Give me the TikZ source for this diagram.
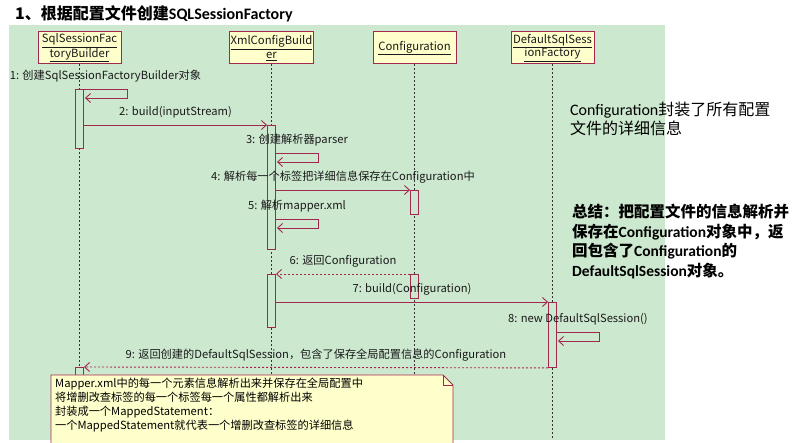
\documentclass[tikz,border=0pt]{standalone}
\usepackage{fontspec}
\usepackage{tikz}
\usetikzlibrary{arrows.meta}
\newfontfamily\cjk{Noto Sans CJK SC}
\newfontfamily\lat{Carlito}
\definecolor{cBg}{HTML}{CCE8CF}
\definecolor{cLine}{HTML}{A3284F}
\definecolor{cHead}{HTML}{FFFFCC}
\definecolor{cInk}{HTML}{1A1A1A}
\definecolor{cLife}{HTML}{333333}
\tikzset{
  >={Straight Barb[length=5pt,width=9pt]},
  head/.style ={draw=cLine,fill=cHead,line width=1pt,align=center,inner sep=1pt,
                minimum width=83pt,minimum height=32pt,text=cInk,
                font=\cjk\fontsize{11.3}{13.5}\selectfont},
  life/.style ={draw=cLife,dash pattern=on 2pt off 2pt,line width=0.8pt},
  act/.style  ={draw=cLine,fill=cBg,line width=0.9pt,minimum width=8pt,inner sep=0pt,anchor=north},
  msg/.style  ={->,draw=cLine,line width=0.9pt},
  ret/.style  ={msg,dash pattern=on 2pt off 2pt},
  lbl/.style  ={font=\cjk\fontsize{11.2}{13}\selectfont,text=cInk,inner sep=1pt,above=5pt},
  txt/.style  ={anchor=north west,align=left,inner sep=0pt,text=black},
}
\begin{document}
\begin{tikzpicture}[x=1pt,y=-1pt]
\useasboundingbox (0,0) rectangle (796,443);
\clip (0,0) rectangle (796,443);
\fill[cBg] (9,25) rectangle (665,440);
\coordinate (bot) at (0,440);
\node[txt,font=\cjk\bfseries\fontsize{16}{18}\selectfont] (title) at (15,5) {1、根据配置文件创建{\lat SQLSessionFactory}};
\node[head] (ssfb) at (79.5,48) {\underline{SqlSessionFac}\\\underline{toryBuilder}};
\node[head,minimum width=76pt] (xcb) at (271.5,48) {\underline{XmlConfigBuild}\\\underline{er}};
\node[head] (cfg) at (414.5,48) {\underline{Configuration}};
\node[head] (dssf) at (552.5,48) {\underline{DefaultSqlSess}\\\underline{ionFactory}};
\foreach \n in {ssfb,xcb,cfg,dssf}
  \draw[life] (\n.south) -- (\n.south |- bot);
\node[act,minimum height=59pt] (sb1) at (ssfb.center |- 0,89) {};
\node[act,minimum height=90pt] (sb2) at (ssfb.center |- 0,367) {};
\node[act,minimum height=124pt] (xb1) at (xcb.center |- 0,125) {};
\node[act,minimum height=53pt] (xb2) at (xcb.center |- 0,274) {};
\node[act,minimum height=24pt] (cf1) at (cfg.center |- 0,190) {};
\node[act,minimum height=24pt] (cf2) at (cfg.center |- 0,274) {};
\node[act,minimum height=65pt] (df1) at (dssf.center |- 0,302) {};
\draw[msg] (sb1.north east) -- node[lbl] {1: 创建SqlSessionFactoryBuilder对象} ++(43,0) -- ++(0,9) -- ++(-42,0);
\draw[msg] (sb1.east |- xb1.north) -- node[lbl] {2: build(inputStream)} (xb1.north west);
\draw[msg] (xb1.north east |- 0,153) -- node[lbl] {3: 创建解析器parser} ++(42,0) -- ++(0,9) -- ++(-41,0);
\draw[msg] (xb1.east |- cf1.north) -- node[lbl] {4: 解析每一个标签把详细信息保存在Configuration中} (cf1.north west);
\draw[msg] (xb1.north east |- 0,219) -- node[lbl] {5: 解析mapper.xml} ++(42,0) -- ++(0,9) -- ++(-41,0);
\draw[ret] (cf2.north west) -- node[lbl] {6: 返回Configuration} (xb2.north east);
\draw[msg] (xb2.east |- df1.north) -- node[lbl] {7: build(Configuration)} (df1.north west);
\draw[msg] (df1.north east |- 0,332) -- node[lbl] {8: new DefaultSqlSession()} ++(42,0) -- ++(0,9) -- ++(-41,0);
\draw[ret] (df1.south west) -- node[lbl] {9: 返回创建的DefaultSqlSession，包含了保存全局配置信息的Configuration} (sb2.north east);
\draw[draw=cLine,fill=cHead,line width=0.9pt] (51,375) -- (443,375) -- (453,385) -- (453,460) -- (51,460) -- cycle;
\draw[cLine,line width=0.9pt] (443,375) -- (443,385) -- (453,385);
\node[txt,font=\cjk\fontsize{11.2}{14}\selectfont] (memo) at (55,378) {Mapper.xml中的每一个元素信息解析出来并保存在全局配置中\\将增删改查标签的每一个标签每一个属性都解析出来\\封装成一个MappedStatement：\\一个MappedStatement就代表一个增删改查标签的详细信息};
\node[txt,font=\cjk\fontsize{16}{19}\selectfont] (cfgtxt) at (570,102) {{\lat Configuration}封装了所有配置\\文件的详细信息};
\node[txt,font=\cjk\bfseries\fontsize{15.5}{19.5}\selectfont] (sum) at (572,204) {总结：把配置文件的信息解析并\\保存在{\lat Configuration}对象中，返\\回包含了{\lat Configuration}的\\{\lat DefaultSqlSession}对象。};
\end{tikzpicture}
\end{document}
